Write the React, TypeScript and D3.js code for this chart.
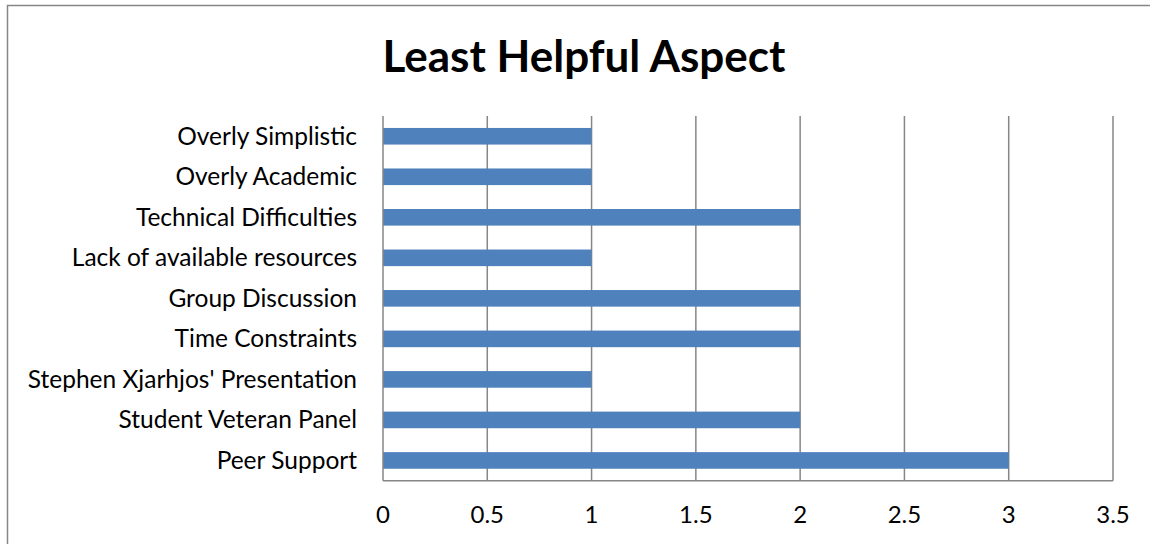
import React, { useRef, useEffect } from 'react';
import * as d3 from 'd3';

// Categories listed top to bottom as they appear in the chart
const CATEGORIES = [
  'Overly Simplistic',
  'Overly Academic',
  'Technical Difficulties',
  'Lack of available resources',
  'Group Discussion',
  'Time Constraints',
  "Stephen Xjarhjos' Presentation",
  'Student Veteran Panel',
  'Peer Support',
];
const COUNTS = [1, 1, 2, 1, 2, 2, 1, 2, 3];
const X_TICKS = [0, 0.5, 1, 1.5, 2, 2.5, 3, 3.5];
const TITLE = 'Least Helpful Aspect';

const BAR_COLOR = '#4f81bd';
const GRID_COLOR = '#868686';
const FONT = 'Lato, "Open Sans", sans-serif';

const App: React.FC = () => {
  const svgRef = useRef<SVGSVGElement>(null);

  useEffect(() => {
    if (!svgRef.current) return;
    const svg = d3.select(svgRef.current);
    svg.selectAll('*').remove();

    const width = 1150;
    const height = 544;
    const plot = { left: 383, right: 1113, top: 116, bottom: 480.7 };

    // Outer chart border
    svg.append('rect')
      .attr('x', 7.5)
      .attr('y', 5.5)
      .attr('width', width)
      .attr('height', height)
      .attr('fill', '#fff')
      .attr('stroke', GRID_COLOR)
      .attr('stroke-width', 1.5);

    // Title
    svg.append('text')
      .attr('x', 584)
      .attr('y', 72)
      .attr('text-anchor', 'middle')
      .attr('font-family', FONT)
      .attr('font-weight', 'bold')
      .attr('font-size', 44)
      .attr('fill', '#000')
      .text(TITLE);

    const xScale = d3.scaleLinear()
      .domain([0, 3.5])
      .range([plot.left, plot.right]);

    const yScale = d3.scaleBand<string>()
      .domain(CATEGORIES)
      .range([plot.top, plot.bottom])
      .padding(0);

    // Vertical grid lines
    svg.append('g')
      .selectAll('line')
      .data(X_TICKS.filter(t => t > 0))
      .join('line')
      .attr('x1', d => xScale(d))
      .attr('x2', d => xScale(d))
      .attr('y1', plot.top)
      .attr('y2', plot.bottom)
      .attr('stroke', GRID_COLOR)
      .attr('stroke-width', 1.5);

    // Bars
    const barH = yScale.bandwidth() * 0.41;
    svg.append('g')
      .selectAll('rect')
      .data(CATEGORIES)
      .join('rect')
      .attr('x', xScale(0))
      .attr('y', d => (yScale(d) as number) + yScale.bandwidth() / 2 - barH / 2)
      .attr('width', (d, i) => xScale(COUNTS[i]) - xScale(0))
      .attr('height', barH)
      .attr('fill', BAR_COLOR);

    // Axis lines
    svg.append('line')
      .attr('x1', plot.left).attr('x2', plot.left)
      .attr('y1', plot.top).attr('y2', plot.bottom)
      .attr('stroke', GRID_COLOR).attr('stroke-width', 1.5);
    svg.append('line')
      .attr('x1', plot.left).attr('x2', plot.right)
      .attr('y1', plot.bottom).attr('y2', plot.bottom)
      .attr('stroke', GRID_COLOR).attr('stroke-width', 1.5);

    // Category labels
    svg.append('g')
      .selectAll('text')
      .data(CATEGORIES)
      .join('text')
      .attr('x', plot.left - 26)
      .attr('y', d => (yScale(d) as number) + yScale.bandwidth() / 2 + 8.5)
      .attr('text-anchor', 'end')
      .attr('font-family', FONT)
      .attr('font-size', 24.5)
      .attr('fill', '#000')
      .text(d => d);

    // X tick labels
    svg.append('g')
      .selectAll('text')
      .data(X_TICKS)
      .join('text')
      .attr('x', d => xScale(d))
      .attr('y', 523)
      .attr('text-anchor', 'middle')
      .attr('font-family', FONT)
      .attr('font-size', 24)
      .attr('fill', '#000')
      .text(d => String(d));
  }, []);

  return (
    <svg
      ref={svgRef}
      width={1150}
      height={544}
      style={{ position: 'absolute', left: 0, top: 0, display: 'block' }}
    />
  );
};

export default App;
